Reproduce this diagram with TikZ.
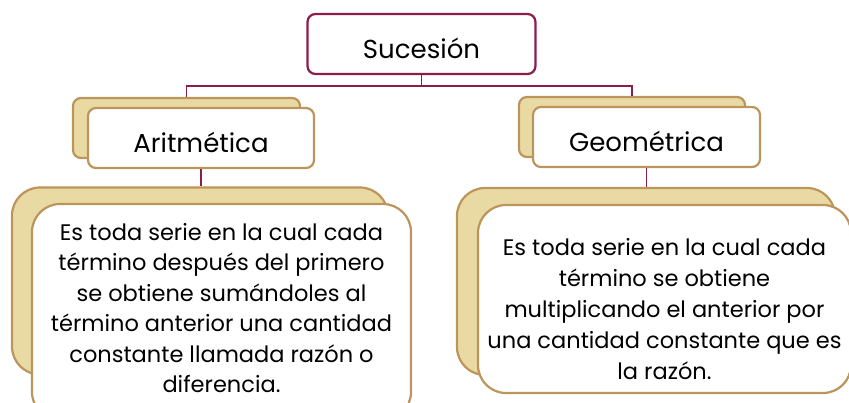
\documentclass[tikz,border=0pt]{standalone}
\usepackage{fontspec}
\setmainfont{Poppins}
\usepackage{tikz}
\usetikzlibrary{positioning}
\usetikzlibrary{calc}
\definecolor{guinda}{HTML}{8C1D4A}
\definecolor{dorado}{HTML}{BC955C}
\definecolor{arena}{HTML}{E9DAA4}
\tikzset{
    rootbox/.style={draw=guinda, line width=2.2pt, fill=white, rounded corners=8pt,
        inner sep=0pt, text height=28pt, text depth=0pt, font=\fontsize{26}{30}\selectfont},
    backbox/.style={draw=dorado, line width=2.2pt, fill=arena, rounded corners=8pt, inner sep=0pt},
    frontbox/.style={draw=dorado, line width=2.2pt, fill=white, rounded corners=8pt,
        inner sep=0pt, text height=28pt, text depth=0pt, font=\fontsize{26}{30}\selectfont},
    bigback/.style={backbox, rounded corners=28pt},
    bigfront/.style={draw=dorado, line width=2.2pt, fill=white, rounded corners=28pt},
    deftext/.style={align=center, inner sep=0pt, font=\fontsize{22.5}{31}\selectfont},
    link/.style={draw=guinda, line width=1.6pt},
}
\begin{document}
\begin{tikzpicture}[x=1pt, y=-1pt]
	\useasboundingbox (0,0) rectangle (849,402);
	\node[rootbox, minimum width=228pt, minimum height=60pt] (suc) at (421.5,44) {Sucesión};
	\node[backbox, minimum width=227pt, minimum height=60pt] (aritback) at (186.5,128) {};
	\node[frontbox, minimum width=226pt, minimum height=60pt] (arit) at (201,138) {Aritmética};
	\node[backbox, minimum width=226pt, minimum height=60pt] (geomback) at (632,127) {};
	\node[frontbox, minimum width=227pt, minimum height=60pt] (geom) at (646.5,137) {Geométrica};
	\coordinate (split) at (421.5,86);
	\draw[link] (suc.south) -- (split) -| (aritback.north);
	\draw[link] (split) -| (geomback.north);
	\node[bigback, minimum width=376pt, minimum height=187pt] (aritdefback) at (200,281) {};
	\node[bigfront, minimum width=379pt, minimum height=216pt] (aritdef) at (221.5,312) {};
	\node[deftext, font=\fontsize{22.5}{30.5}\selectfont] (arittext) at ($(aritdef.center)+(0,-4)$)
		{Es toda serie en la cual cada\\término después del primero\\se obtiene sumándoles al\\término anterior una cantidad\\constante llamada razón o\\diferencia.};
	\node[bigback, minimum width=378pt, minimum height=187pt] (geomdefback) at (646,281.5) {};
	\node[bigfront, minimum width=373pt, minimum height=188pt] (geomdef) at (664.5,299) {};
	\node[deftext] (geomtext) at ($(geomdef.center)+(0,10)$)
		{Es toda serie en la cual cada\\término se obtiene\\multiplicando el anterior por\\una cantidad constante que es\\la razón.};
	\draw[link] (arit.south) -- (aritdefback.north -| arit.south);
	\draw[link] (geom.south) -- (geomdefback.north -| geom.south);
\end{tikzpicture}
\end{document}
